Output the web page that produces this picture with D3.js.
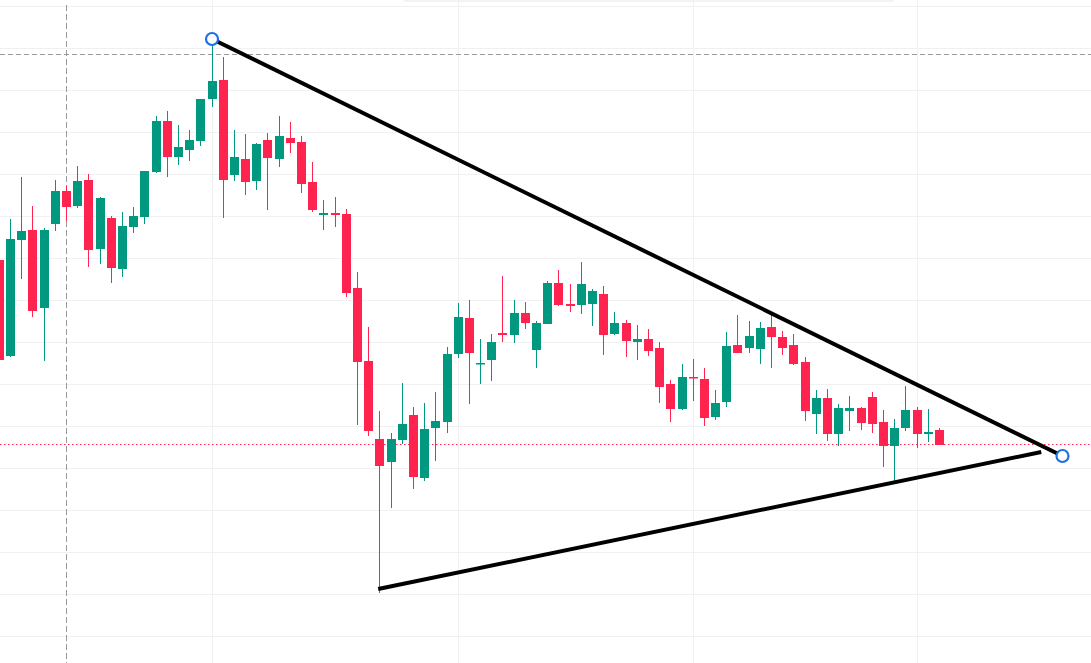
<!DOCTYPE html>
<html>
<head>
<meta charset="utf-8">
<script src="https://cdn.jsdelivr.net/npm/d3@7/dist/d3.min.js"></script>
<style>
html,body{margin:0;padding:0;background:#fff;overflow:hidden;}
svg{display:block;}
</style>
</head>
<body>
<svg id="chart" width="1091" height="663"></svg>
<script>
// ---- data (prices) ----
const open = [1.1403,1.1307,1.1423,1.1433,1.1355,1.1439,1.1472,1.1457,1.1483,1.1414,
  1.1445,1.1394,1.1436,1.1446,1.1491,1.1542,1.1506,1.1513,1.1522,1.1564,
  1.1583,1.1488,1.1504,1.1482,1.1523,1.1504,1.1525,1.1521,1.1481,1.1448,
  1.1450,1.1449,1.1375,1.1302,1.1224,1.1201,1.1223,1.1248,1.1185,1.1235,
  1.1241,1.1309,1.1345,1.1299,1.1303,1.1330,1.1328,1.1350,1.1313,1.1339,
  1.1380,1.1359,1.1358,1.1359,1.1369,1.1329,1.1340,1.1321,1.1324,1.1315,
  1.1279,1.1254,1.1286,1.1284,1.1246,1.1261,1.1318,1.1315,1.1314,1.1336,
  1.1326,1.1318,1.1301,1.1249,1.1265,1.1229,1.1252,1.1255,1.1266,1.1241,
  1.1217,1.1235,1.1253,1.1229,1.1233];
const high = [1.1406,1.1444,1.1486,1.1457,1.1435,1.1483,1.1477,1.1497,1.1489,1.1466,
  1.1447,1.1451,1.1456,1.1492,1.1547,1.1552,1.1538,1.1533,1.1564,1.1624,
  1.1606,1.1533,1.1529,1.1520,1.1530,1.1547,1.1541,1.1527,1.1501,1.1463,
  1.1466,1.1454,1.1391,1.1336,1.1252,1.1230,1.1280,1.1256,1.1260,1.1271,
  1.1316,1.1360,1.1363,1.1324,1.1329,1.1387,1.1363,1.1361,1.1342,1.1382,
  1.1393,1.1379,1.1401,1.1374,1.1377,1.1351,1.1343,1.1338,1.1334,1.1321,
  1.1283,1.1299,1.1304,1.1295,1.1273,1.1331,1.1348,1.1342,1.1341,1.1348,
  1.1332,1.1329,1.1306,1.1273,1.1274,1.1259,1.1267,1.1256,1.1271,1.1253,
  1.1244,1.1277,1.1256,1.1254,1.1235];
const low = [1.1301,1.1306,1.1384,1.1346,1.1302,1.1432,1.1442,1.1455,1.1396,1.1399,
  1.1380,1.1386,1.1430,1.1439,1.1490,1.1486,1.1498,1.1502,1.1517,1.1556,
  1.1445,1.1482,1.1468,1.1473,1.1453,1.1496,1.1510,1.1470,1.1451,1.1433,
  1.1436,1.1366,1.1238,1.1227,1.1070,1.1155,1.1219,1.1174,1.1182,1.1202,
  1.1230,1.1305,1.1259,1.1279,1.1282,1.1321,1.1320,1.1334,1.1295,1.1339,
  1.1357,1.1351,1.1349,1.1337,1.1308,1.1328,1.1306,1.1303,1.1307,1.1260,
  1.1241,1.1253,1.1262,1.1237,1.1243,1.1256,1.1310,1.1310,1.1299,1.1295,
  1.1308,1.1298,1.1242,1.1229,1.1222,1.1217,1.1232,1.1233,1.1230,1.1196,
  1.1181,1.1232,1.1215,1.1221,1.1218];
const close = [1.1303,1.1424,1.1432,1.1352,1.1433,1.1472,1.1456,1.1482,1.1413,1.1465,
  1.1395,1.1437,1.1447,1.1492,1.1542,1.1506,1.1516,1.1523,1.1564,1.1582,
  1.1483,1.1506,1.1481,1.1519,1.1505,1.1527,1.1520,1.1479,1.1453,1.1450,
  1.1448,1.1370,1.1301,1.1232,1.1197,1.1224,1.1239,1.1186,1.1234,1.1242,
  1.1309,1.1346,1.1310,1.1300,1.1321,1.1328,1.1350,1.1340,1.1340,1.1380,
  1.1358,1.1357,1.1379,1.1372,1.1328,1.1340,1.1322,1.1324,1.1312,1.1276,
  1.1254,1.1286,1.1285,1.1245,1.1260,1.1317,1.1310,1.1327,1.1335,1.1326,
  1.1315,1.1299,1.1252,1.1265,1.1229,1.1255,1.1255,1.1240,1.1239,1.1217,
  1.1235,1.1253,1.1229,1.1231,1.1218];

// horizontal grid levels and vertical grid bars
const gridPrices = [1.1657,1.1615,1.1573,1.1531,1.1489,1.1447,1.1405,1.1363,1.1321,1.1279,1.1237,1.1195,1.1153,1.1111,1.1069,1.1027];
const gridBars = [19, 41, 62, 82];

// drawings: triangle trend lines (bar index, price)
const trendTop = [[19, 1.1624], [95, 1.1207]];
const trendBottom = [[33.85, 1.1074], [93.1, 1.1211]];

// crosshair position
const crossBar = 6;
const crossPrice = 1.1609;

// ---- rendering ----
const W = 1091, H = 663;
const UP = "#00997f", DOWN = "#ff2350";
const svg = d3.select("#chart");

const x = d3.scaleLinear().domain([0, 84]).range([-0.6, 939.4]);
const y = d3.scaleLinear().domain([1.1663, 1.1000]).range([0, H]);

const candles = open.map((o, i) => ({i, o, h: high[i], l: low[i], c: close[i]}));

// faint top panel shadow
svg.append("rect").attr("x", 403).attr("y", -4).attr("width", 491).attr("height", 6)
  .attr("rx", 3).attr("fill", "#f3f3f3");

// grid
svg.append("g").selectAll("line").data(gridPrices).join("line")
  .attr("x1", 0).attr("x2", W)
  .attr("y1", d => Math.round(y(d)) + 0.5).attr("y2", d => Math.round(y(d)) + 0.5)
  .attr("stroke", "#f0f1f3").attr("stroke-width", 1);
svg.append("g").selectAll("line").data(gridBars).join("line")
  .attr("x1", d => Math.round(x(d)) + 0.5).attr("x2", d => Math.round(x(d)) + 0.5)
  .attr("y1", 0).attr("y2", H)
  .attr("stroke", "#f0f1f3").attr("stroke-width", 1);

// last price line (dotted)
const lastY = Math.round(y(close[close.length - 1])) - 0.5;
svg.append("line").attr("x1", 0).attr("x2", W).attr("y1", lastY).attr("y2", lastY)
  .attr("stroke", DOWN).attr("stroke-width", 1).attr("stroke-dasharray", "1.5,2.5");

// crosshair
svg.append("line").attr("x1", 0).attr("x2", W)
  .attr("y1", Math.round(y(crossPrice)) + 0.5).attr("y2", Math.round(y(crossPrice)) + 0.5)
  .attr("stroke", "#9a9a9a").attr("stroke-width", 1).attr("stroke-dasharray", "5,3");
svg.append("line")
  .attr("x1", Math.round(x(crossBar)) - 0.5).attr("x2", Math.round(x(crossBar)) - 0.5)
  .attr("y1", 5).attr("y2", H)
  .attr("stroke", "#9a9a9a").attr("stroke-width", 1).attr("stroke-dasharray", "6,3");

// candles
const g = svg.append("g");
const cg = g.selectAll("g.c").data(candles).join("g").attr("class", "c")
  .attr("fill", d => d.c >= d.o ? UP : DOWN);
cg.append("rect")
  .attr("x", d => Math.floor(x(d.i)))
  .attr("width", 1)
  .attr("y", d => Math.round(y(d.h)))
  .attr("height", d => Math.max(1, Math.round(y(d.l)) - Math.round(y(d.h))));
cg.append("rect")
  .attr("x", d => Math.floor(x(d.i)) - 4)
  .attr("width", 9)
  .attr("y", d => Math.round(y(Math.max(d.o, d.c))))
  .attr("height", d => Math.max(1.5, Math.round(y(Math.min(d.o, d.c))) - Math.round(y(Math.max(d.o, d.c)))));

// trend lines
const line = d3.line().x(d => x(d[0])).y(d => y(d[1]));
svg.append("path").attr("d", line(trendBottom)).attr("fill", "none")
  .attr("stroke", "#000").attr("stroke-width", 4).attr("stroke-linecap", "butt");
svg.append("path").attr("d", line(trendTop)).attr("fill", "none")
  .attr("stroke", "#000").attr("stroke-width", 4).attr("stroke-linecap", "butt");

// selection handles
svg.append("g").selectAll("circle").data(trendTop).join("circle")
  .attr("cx", d => x(d[0])).attr("cy", d => y(d[1])).attr("r", 6)
  .attr("fill", "#fff").attr("stroke", "#1e6fe6").attr("stroke-width", 2.2);
</script>
</body>
</html>
